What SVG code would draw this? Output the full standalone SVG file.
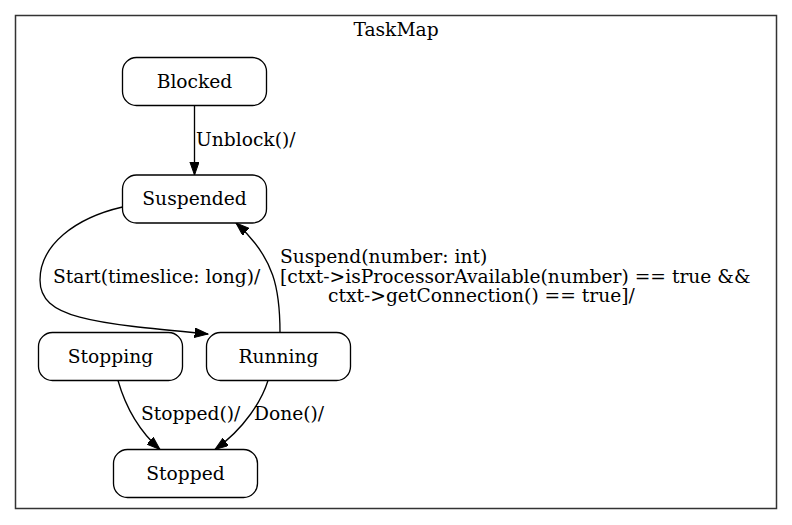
<svg xmlns="http://www.w3.org/2000/svg" width="792" height="525" viewBox="0 0 792 525">
<style>
text { font-family: "DejaVu Serif", serif; font-size: 18.67px; fill: #000; }
.node rect { fill: #fff; stroke: #000; stroke-width: 1.33; }
.node text { text-anchor: middle; }
.edge path { fill: none; stroke: #000; stroke-width: 1.33; }
</style>
<defs>
<marker id="arrow" markerUnits="userSpaceOnUse" markerWidth="14" markerHeight="10" refX="13.3" refY="4.7" orient="auto">
<polygon points="0,0 13.3,4.7 0,9.4" fill="#000" stroke="#000" stroke-width="1"/>
</marker>
</defs>
<rect width="792" height="525" fill="#fff"/>
<g id="cluster_TaskMap">
<rect x="15.5" y="15.5" width="761" height="493" fill="none" stroke="#333" stroke-width="1.5"/>
<text x="396" y="36" text-anchor="middle">TaskMap</text>
</g>
<g id="edges" class="edge">
<path d="M194.5,105.5 L194.5,175" marker-end="url(#arrow)"/>
<path d="M122.5,207 C75,218 40,245 40,280 C40,318 90,323 208,334" marker-end="url(#arrow)"/>
<path d="M280,332.5 C280,290 275,258 236,223" marker-end="url(#arrow)"/>
<path d="M118,380.5 C125,405 138,430 160,449.5" marker-end="url(#arrow)"/>
<path d="M268,380.5 C262,400 245,428 215,449.5" marker-end="url(#arrow)"/>
<text x="196" y="146">Unblock()/</text>
<text x="53" y="283">Start(timeslice: long)/</text>
<text x="280" y="263">Suspend(number: int)</text>
<text x="280" y="283">[ctxt-&gt;isProcessorAvailable(number) == true &amp;&amp;</text>
<text x="328" y="302">ctxt-&gt;getConnection() == true]/</text>
<text x="141" y="420">Stopped()/</text>
<text x="254" y="420">Done()/</text>
</g>
<g id="Blocked" class="node">
<rect x="122.5" y="57.5" width="144" height="48" rx="14"/>
<text x="194.5" y="87.5">Blocked</text>
</g>
<g id="Suspended" class="node">
<rect x="122.5" y="175" width="144" height="48" rx="14"/>
<text x="194.5" y="205">Suspended</text>
</g>
<g id="Stopping" class="node">
<rect x="38.5" y="332.5" width="144" height="48" rx="14"/>
<text x="110.5" y="362.5">Stopping</text>
</g>
<g id="Running" class="node">
<rect x="206.5" y="332.5" width="144" height="48" rx="14"/>
<text x="278.5" y="362.5">Running</text>
</g>
<g id="Stopped" class="node">
<rect x="113.5" y="449.5" width="144" height="48" rx="14"/>
<text x="185.5" y="479.5">Stopped</text>
</g>
</svg>
